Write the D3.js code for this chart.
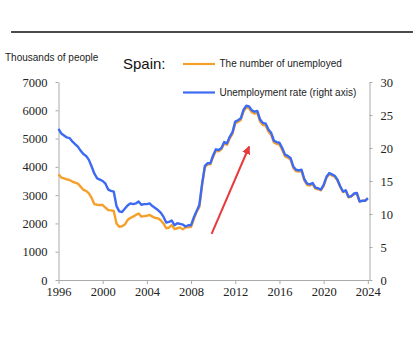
<!DOCTYPE html>
<html>
<head>
<meta charset="utf-8">
<script src="https://cdn.jsdelivr.net/npm/d3@7"></script>
<style>
  body { margin: 0; background: #fff; }
  svg { display: block; }
</style>
</head>
<body>
<div id="chart"></div>
<script>
// Quarterly data, 1996 Q1 to 2024 Q1
const years = d3.range(1996, 2025);
const quarters = [];
years.forEach(y => [0, 0.25, 0.5, 0.75].forEach(q => { if (y + q <= 2024) quarters.push(y + q); }));

// Unemployed, thousands of people (left axis)
const unemployed = [
  3737, 3620, 3595, 3560,  3535, 3480, 3440, 3410,  3300, 3190, 3150, 3060,
  2900, 2680, 2660, 2650,  2650, 2560, 2470, 2460,  2440, 2000, 1880, 1900,
  1960, 2120, 2190, 2240,  2300, 2350, 2240, 2260,  2270, 2300, 2240, 2190,
  2180, 2110, 2000, 1830,  1850, 1940, 1800, 1830,  1860, 1790, 1860, 1860,
  1880, 2150, 2420, 2580,  3370, 3990, 4090, 4090,  4360, 4570, 4550, 4620,
  4830, 4780, 5010, 5170,  5540, 5590, 5660, 5960,  6100, 6070, 5930, 5880,
  5900, 5600, 5480, 5460,  5250, 5130, 4860, 4810,  4790, 4600, 4370, 4330,
  4260, 3960, 3850, 3830,  3850, 3520, 3360, 3340,  3390, 3230, 3210, 3170,
  3330, 3610, 3740, 3700,  3650, 3520, 3290, 3110,  3150, 2920, 2950, 3040,
  3070, 2780, 2800, 2800,  2880
];

// Unemployment rate, % (right axis)
const rate = [
  22.9, 22.2, 21.9, 21.6,  21.5, 21.0, 20.6, 20.2,  19.6, 19.1, 18.8, 18.2,
  17.2, 16.1, 15.4, 15.2,  15.0, 14.6, 13.7, 13.5,  13.4, 11.2, 10.4, 10.3,
  10.8, 11.3, 11.6, 11.5,  11.6, 11.9, 11.4, 11.5,  11.5, 11.6, 11.2, 10.9,
  10.6, 10.2, 9.6, 8.7,    8.8, 9.0, 8.3, 8.6,      8.5, 8.4, 8.1, 8.3,
  8.3, 9.5, 10.4, 11.4,    14.6, 17.3, 17.7, 17.7,  18.9, 19.8, 19.7, 20.0,
  20.9, 20.7, 21.7, 22.4,  24.0, 24.2, 24.5, 25.8,  26.4, 26.3, 25.7, 25.5,
  25.6, 24.3, 23.8, 23.7,  22.8, 22.3, 21.1, 20.9,  20.8, 20.0, 19.0, 18.8,
  18.5, 17.2, 16.7, 16.6,  16.7, 15.3, 14.6, 14.5,  14.7, 14.0, 13.9, 13.7,
  14.4, 15.6, 16.2, 16.0,  15.8, 15.2, 14.2, 13.4,  13.6, 12.6, 12.7, 13.1,
  13.2, 11.9, 12.0, 12.0,  12.4
];

const leftTicks = [0, 1000, 2000, 3000, 4000, 5000, 6000, 7000];
const rightTicks = [0, 5, 10, 15, 20, 25, 30];
const yearTicks = [1996, 2000, 2004, 2008, 2012, 2016, 2020, 2024];

// Red arrow annotation, in data units (year, thousands)
const arrow = { from: [2009.86, 1630], to: [2013.26, 4720] };

const width = 420, height = 344;
const margin = { top: 82, bottom: 64, left: 58.5, right: 50.5 };

const svg = d3.select("#chart")
  .append("svg")
  .attr("width", width)
  .attr("height", height);

const x = d3.scaleLinear()
  .domain([1996, 2024.15])
  .range([margin.left, width - margin.right]);

const yLeft = d3.scaleLinear()
  .domain([0, 7000])
  .range([height - margin.bottom, margin.top]);

const yRight = d3.scaleLinear()
  .domain([0, 30])
  .range([height - margin.bottom, margin.top]);

// Top rule
svg.append("line")
  .attr("x1", 11).attr("x2", 413)
  .attr("y1", 32).attr("y2", 32)
  .attr("stroke", "#111")
  .attr("stroke-width", 1.6);

const axisColor = "#aaa";
const tickFont = "'Liberation Serif', 'Times New Roman', serif";

function styleAxis(g) {
  g.selectAll(".domain").attr("stroke", axisColor);
  g.selectAll(".tick line").attr("stroke", axisColor);
  g.selectAll(".tick text")
    .attr("fill", "#222")
    .style("font-family", tickFont)
    .style("font-size", "12.5px");
}

// Axes
svg.append("g")
  .attr("transform", `translate(0,${height - margin.bottom})`)
  .call(d3.axisBottom(x).tickValues(yearTicks).tickFormat(d3.format("d")).tickSize(4).tickSizeOuter(0).tickPadding(3))
  .call(styleAxis);

svg.append("g")
  .attr("transform", `translate(${margin.left},0)`)
  .call(d3.axisLeft(yLeft).tickValues(leftTicks).tickFormat(d3.format("d")).tickSize(3).tickSizeOuter(0).tickPadding(8))
  .call(styleAxis);

svg.append("g")
  .attr("transform", `translate(${width - margin.right},0)`)
  .call(d3.axisRight(yRight).tickValues(rightTicks).tickSize(3).tickSizeOuter(0).tickPadding(8))
  .call(styleAxis);

// Lines
const orange = "#f5a02a", blue = "#3d6af2";

const lineLeft = d3.line()
  .x((d, i) => x(quarters[i]))
  .y(d => yLeft(d));

const lineRight = d3.line()
  .x((d, i) => x(quarters[i]))
  .y(d => yRight(d));

svg.append("path")
  .datum(unemployed)
  .attr("d", lineLeft)
  .attr("fill", "none")
  .attr("stroke", orange)
  .attr("stroke-width", 2.4)
  .attr("stroke-linejoin", "round");

svg.append("path")
  .datum(rate)
  .attr("d", lineRight)
  .attr("fill", "none")
  .attr("stroke", blue)
  .attr("stroke-width", 2.4)
  .attr("stroke-linejoin", "round");

// Red arrow
svg.append("defs").append("marker")
  .attr("id", "arrowhead")
  .attr("viewBox", "0 0 10 10")
  .attr("refX", 9).attr("refY", 5)
  .attr("markerWidth", 4.2).attr("markerHeight", 4.2)
  .attr("markerUnits", "strokeWidth")
  .attr("orient", "auto")
  .append("path")
  .attr("d", "M0,0 L10,5 L0,10 z")
  .attr("fill", "#e8393b");

svg.append("line")
  .attr("x1", x(arrow.from[0])).attr("y1", yLeft(arrow.from[1]))
  .attr("x2", x(arrow.to[0])).attr("y2", yLeft(arrow.to[1]))
  .attr("stroke", "#e8393b")
  .attr("stroke-width", 2)
  .attr("marker-end", "url(#arrowhead)");

// Titles and legend
const sans = "'Liberation Sans', Arial, sans-serif";

svg.append("text")
  .attr("x", 5).attr("y", 61)
  .style("font-family", sans).style("font-size", "10px")
  .attr("fill", "#222")
  .text("Thousands of people");

svg.append("text")
  .attr("x", 123).attr("y", 69)
  .style("font-family", sans).style("font-size", "15px")
  .attr("fill", "#111")
  .text("Spain:");

const legend = [
  { label: "The number of unemployed", color: orange, y: 64 },
  { label: "Unemployment rate (right axis)", color: blue, y: 92.5 }
];

legend.forEach(l => {
  svg.append("line")
    .attr("x1", 183).attr("x2", 215)
    .attr("y1", l.y).attr("y2", l.y)
    .attr("stroke", l.color)
    .attr("stroke-width", 2.2);
  svg.append("text")
    .attr("x", 219.5).attr("y", l.y + 3)
    .style("font-family", sans).style("font-size", "10px")
    .attr("fill", "#222")
    .text(l.label);
});
</script>
</body>
</html>
